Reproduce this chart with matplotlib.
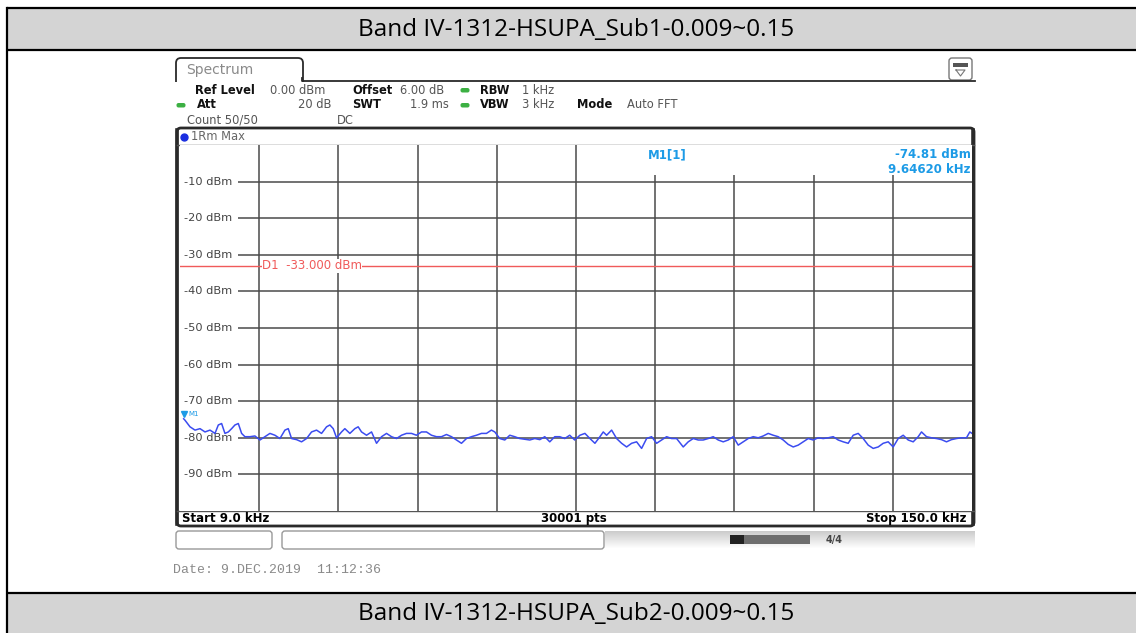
import matplotlib.pyplot as plt
import matplotlib.transforms as mtransforms
from matplotlib.patches import Rectangle, FancyBboxPatch
import numpy as np

# ---- table captions ----
title_top = "Band IV-1312-HSUPA_Sub1-0.009~0.15"
title_bottom = "Band IV-1312-HSUPA_Sub2-0.009~0.15"

# ---- analyzer settings ----
f_start, f_stop = 9.0, 150.0
level_top, level_bottom = 0.0, -100.0
level_ticks = [-10, -20, -30, -40, -50, -60, -70, -80, -90]
d1_limit = -33.0
m1_freq = 9.6462
m1_level = -74.81

header_rows = [
    [("Ref Level", True), ("0.00 dBm", False), ("Offset", True), ("6.00 dB", False),
     ("RBW", True), ("1 kHz", False)],
    [("Att", True), ("20 dB", False), ("SWT", True), ("1.9 ms", False),
     ("VBW", True), ("3 kHz", False), ("Mode", True), ("Auto FFT", False)],
    [("Count 50/50", False), ("DC", False)],
]

# ---- max-hold trace (kHz, dBm) ----
trace_freq = [
    9.65, 9.89, 10.78, 11.67, 12.56, 13.45, 14.34, 15.23, 15.82, 16.41,
    17.00, 17.60, 18.19, 18.78, 19.38, 19.97, 20.56, 21.45, 22.34, 23.23,
    24.12, 25.01, 25.90, 26.79, 27.68, 28.27, 28.86, 29.75, 30.64, 31.53,
    32.42, 33.31, 34.20, 35.09, 35.68, 36.28, 36.87, 37.76, 38.35, 39.24,
    40.13, 40.72, 41.32, 42.21, 43.10, 43.99, 44.88, 45.77, 46.66, 47.55,
    48.44, 49.32, 50.21, 51.10, 51.99, 52.88, 53.77, 54.66, 55.55, 56.44,
    57.33, 58.22, 59.11, 60.00, 60.89, 61.78, 62.67, 63.56, 64.44, 65.04,
    65.93, 66.82, 67.71, 68.60, 69.49, 70.38, 71.27, 72.16, 73.05, 73.94,
    74.83, 75.72, 76.60, 77.49, 78.38, 79.27,
    80.20, 81.09, 81.98, 82.87, 83.76, 84.35, 84.95, 85.84, 86.73, 87.62,
    88.51, 89.40, 90.29, 91.18, 92.07, 92.96, 93.85, 94.74, 95.63, 96.52,
    97.41, 98.59, 99.48, 100.37, 101.26, 102.15, 103.04, 103.93, 104.82, 105.71,
    106.60, 107.49, 108.38, 109.27, 110.16, 111.05, 111.94, 112.83, 113.72, 114.61,
    115.50, 116.39, 117.28, 118.17, 119.06, 119.95, 120.84, 121.73, 122.62, 123.51,
    124.40, 125.29, 126.18, 127.07, 127.96, 128.85, 129.74, 130.63, 131.52, 132.41,
    133.30, 134.19, 135.08, 135.97, 136.86, 137.75, 138.64, 139.53, 140.42, 141.01,
    141.90, 142.79, 143.68, 144.57, 145.46, 146.35, 147.24, 148.13, 149.02, 149.61,
    150.00,
]
trace_level = [
    -74.8, -75.2, -77.0, -77.9, -77.5, -78.4, -77.9, -78.8, -76.5, -76.1,
    -78.8, -78.4, -77.5, -76.5, -76.1, -78.8, -79.7, -79.7, -79.5, -80.6,
    -79.7, -78.8, -79.3, -80.2, -77.9, -77.5, -80.2, -80.5, -81.1, -80.2,
    -78.4, -77.9, -78.8, -77.0, -76.5, -77.5, -80.0, -78.4, -77.5, -78.8,
    -77.5, -77.0, -78.4, -79.3, -78.4, -81.5, -79.7, -78.8, -79.7, -80.2,
    -79.3, -78.8, -78.8, -79.3, -78.4, -78.4, -79.3, -79.7, -79.7, -79.1,
    -79.7, -80.6, -81.5, -80.2, -79.7, -79.3, -78.8, -78.8, -77.9, -78.4,
    -80.2, -80.6, -79.3, -79.7, -80.2, -80.4, -80.6, -80.2, -80.5, -79.7,
    -81.1, -79.7, -79.7, -80.2, -79.3, -80.6,
    -79.3, -78.8, -80.2, -81.5, -79.7, -78.4, -79.3, -77.9, -80.2, -81.5,
    -82.5, -81.5, -81.1, -82.9, -80.2, -79.7, -81.5, -80.6, -79.7, -80.2,
    -80.2, -82.5, -81.1, -80.2, -80.6, -80.6, -80.2, -79.7, -80.6, -81.1,
    -80.6, -79.7, -82.0, -81.1, -80.2, -79.7, -80.0, -79.5, -78.8, -79.3,
    -79.7, -80.6, -81.8, -82.5, -82.0, -81.1, -80.2, -80.6, -80.0, -80.2,
    -80.0, -79.7, -80.6, -81.1, -81.5, -79.3, -78.8, -80.2, -82.0, -82.9,
    -82.5, -81.5, -81.1, -82.5, -80.2, -79.3, -80.6, -81.1, -79.7, -78.4,
    -79.7, -80.0, -80.2, -80.5, -81.1, -80.5, -80.2, -80.0, -80.0, -78.4,
    -78.8,
]

W, H = 1136, 633
fig = plt.figure(figsize=(W / 100, H / 100), dpi=100)

# background layer in pixel units for the document table and the instrument chrome
bg = fig.add_axes([0, 0, 1, 1])
bg.set_xlim(0, W)
bg.set_ylim(H, 0)
bg.axis("off")

head_gray = "#d4d4d4"
bg.add_patch(Rectangle((7, 8), W, 42, facecolor=head_gray, edgecolor="none"))
bg.add_patch(Rectangle((7, 593), W, 45, facecolor=head_gray, edgecolor="none"))
for yy in (8, 50, 593):
    bg.plot([7, W], [yy, yy], color="black", lw=1.6, solid_capstyle="butt")
bg.plot([7, 7], [8, H], color="black", lw=1.6)
cap_font = ["Open Sans", "DejaVu Sans"]
bg.text(576, 30, title_top, ha="center", va="center", fontsize=17.5, family=cap_font)
bg.text(576, 614, title_bottom, ha="center", va="center", fontsize=17.5, family=cap_font)

frame_col = "#2a2a2a"
fs = 8.3

# "Spectrum" tab and top rule
bg.add_patch(FancyBboxPatch((176, 58), 127, 30, boxstyle="round,pad=0,rounding_size=5",
                            facecolor="white", edgecolor=frame_col, lw=1.3))
bg.add_patch(Rectangle((174, 82), 132, 10, facecolor="white", edgecolor="none"))
bg.plot([302.4, 302.4, 975], [78, 81, 81], color=frame_col, lw=1.3)
bg.text(186, 70, "Spectrum", fontsize=10, color="#8a8a8a", va="center")

# display-menu icon
bg.add_patch(FancyBboxPatch((949, 58), 23, 22, boxstyle="round,pad=0,rounding_size=3",
                            facecolor="white", edgecolor="#777777", lw=1.0))
bg.add_patch(Rectangle((953, 63), 15, 4, facecolor="#555555", edgecolor="none"))
bg.plot([956, 965, 960.5, 956], [70, 70, 76, 70], color="#777777", lw=0.8)

# settings header
col_x = [
    [(195, "left"), (270, "left"), (352, "left"), (400, "left"), (480, "left"), (522, "left")],
    [(197, "left"), (332, "right"), (352, "left"), (410, "left"), (480, "left"), (522, "left"),
     (577, "left"), (627, "left")],
    [(187, "left"), (337, "left")],
]
row_y = [90, 105, 120]
for r, row in enumerate(header_rows):
    for c, (txt, bold) in enumerate(row):
        x, ha = col_x[r][c]
        bg.text(x, row_y[r], txt, fontsize=fs, va="center", ha=ha,
                weight="bold" if bold else "normal",
                color="#111111" if bold else "#555555")
green = "#3cb043"
for gx, gy in [(465, 90), (465, 105), (181, 105)]:
    bg.add_patch(FancyBboxPatch((gx - 4.5, gy - 2), 9, 4.5, boxstyle="round,pad=0,rounding_size=2",
                                facecolor=green, edgecolor="none"))

# diagram frame
bg.add_patch(FancyBboxPatch((177, 128), 797, 398, boxstyle="round,pad=0,rounding_size=4",
                            facecolor="white", edgecolor=frame_col, lw=2.0))
bg.plot([177, 177], [130, 524], color=frame_col, lw=2.6)
bg.plot([973, 973], [130, 524], color=frame_col, lw=2.6)
bg.plot([177, 974], [145, 145], color="#555555", lw=1.0)
bg.plot([177, 974], [511, 511], color="#555555", lw=1.0)
bg.plot(184, 137, "o", color="#1a2ee0", ms=5)
bg.text(191, 137, "1Rm Max", fontsize=fs, color="#666666", va="center")
bg.text(182, 518.5, "Start 9.0 kHz", fontsize=8.5, weight="bold", va="center")
bg.text(574, 518.5, "30001 pts", fontsize=8.5, weight="bold", va="center", ha="center")
bg.text(966, 518.5, "Stop 150.0 kHz", fontsize=8.5, weight="bold", va="center", ha="right")

# status bar below the diagram
bg.add_patch(FancyBboxPatch((176, 531), 96, 18, boxstyle="round,pad=0,rounding_size=3",
                            facecolor="white", edgecolor="#999999", lw=1.0))
bg.add_patch(FancyBboxPatch((282, 531), 322, 18, boxstyle="round,pad=0,rounding_size=3",
                            facecolor="white", edgecolor="#999999", lw=1.0))
grad = np.linspace(0.80, 1.0, 18).reshape(-1, 1)
bg.imshow(grad, cmap="gray", vmin=0, vmax=1, extent=(605, 975, 549, 531), aspect="auto",
          zorder=1)
bg.add_patch(Rectangle((730, 535), 80, 9, facecolor="#6e6e6e", edgecolor="none", zorder=2))
bg.add_patch(Rectangle((730, 535), 14, 9, facecolor="#222222", edgecolor="none", zorder=2))
bg.text(826, 539.5, "4/4", fontsize=7, weight="bold", color="#444444", va="center", zorder=3)
bg.set_xlim(0, W)
bg.set_ylim(H, 0)

bg.text(173, 570, "Date: 9.DEC.2019  11:12:36", fontsize=9.5, color="#8a8a8a",
        va="center", family="Liberation Mono")

# ---- measurement diagram ----
ax = fig.add_axes([180 / W, 1 - 511 / H, 792 / W, 366 / H])
ax.set_xlim(f_start, f_stop)
ax.set_ylim(level_bottom, level_top)
for s in ax.spines.values():
    s.set_visible(False)
ax.set_xticks([])
ax.set_yticks([])

grid_col = "#4a4a4a"
label_end = 19.4  # level labels occupy the left end of each horizontal grid line
for fx in np.linspace(f_start, f_stop, 11)[1:-1]:
    ax.axvline(fx, color=grid_col, lw=1.1, zorder=1)
for lv in level_ticks:
    ax.hlines(lv, label_end, f_stop, color=grid_col, lw=1.1, zorder=1)

# marker readout box hides the grid behind it
ax.add_patch(Rectangle((83.8, level_top - 8.2), f_stop - 83.8, 8.2, facecolor="white",
                       edgecolor="none", zorder=2))
mk_col = "#1d9be6"
ax.text(0.615, 0.973, "M1[1]", transform=ax.transAxes, fontsize=8.5, color=mk_col,
        weight="bold", ha="center", va="center", zorder=3)
ax.text(0.998, 0.973, f"{m1_level:.2f} dBm", transform=ax.transAxes, fontsize=8.5,
        color=mk_col, weight="bold", ha="right", va="center", zorder=3)
ax.text(0.998, 0.934, f"{m1_freq:.5f} kHz", transform=ax.transAxes, fontsize=8.5,
        color=mk_col, weight="bold", ha="right", va="center", zorder=3)

yx = mtransforms.blended_transform_factory(ax.transAxes, ax.transData)
for lv in level_ticks:
    ax.text(0.005, lv, f"{lv} dBm", transform=yx, fontsize=8.2, color="#444444",
            va="center", ha="left", zorder=3)

# display line D1
ax.axhline(d1_limit, color="#f05a5a", lw=1.0, zorder=1.5)
ax.text(23.6, d1_limit, f"D1  {d1_limit:.3f} dBm", fontsize=8.5, color="#f05a5a",
        va="center", ha="left", zorder=1.8,
        bbox=dict(facecolor="white", edgecolor="none", pad=0.3))

# trace and marker
ax.plot(trace_freq, trace_level, color="#3b4cf0", lw=1.1, zorder=4)
ax.plot(m1_freq, m1_level + 1.2, marker="v", color=mk_col, ms=5, zorder=5)
ax.text(m1_freq + 0.9, m1_level + 1.3, "M1", fontsize=5, color=mk_col, ha="left",
        va="center", zorder=5)

fig.savefig("out.png", dpi=100)
